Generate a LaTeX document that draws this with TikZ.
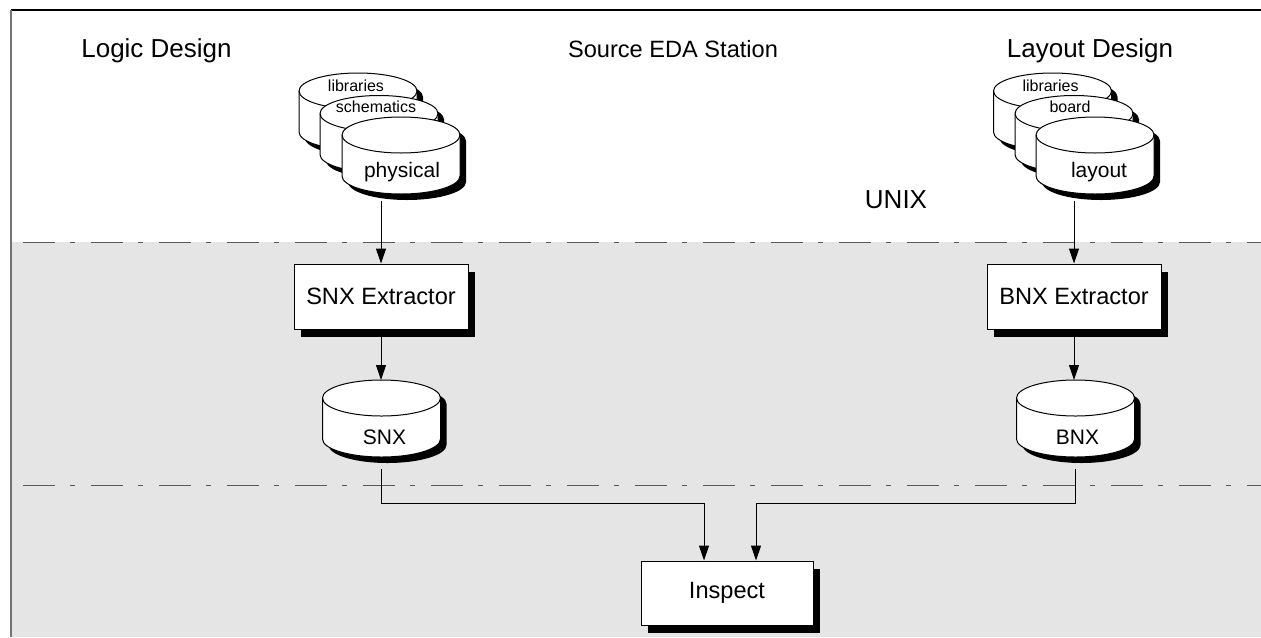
\documentclass[tikz,border=0pt]{standalone}
\usepackage{fontspec}
\setmainfont{Liberation Sans}
\usetikzlibrary{calc,shadows,arrows.meta,positioning}
\tikzset{title/.style={font=\fontsize{13}{15}\selectfont, inner sep=0pt, anchor=base},
  tool/.style={draw, line width=0.5pt, fill=white, minimum width=87pt, minimum height=32.5pt, font=\fontsize{11.8}{14}\selectfont, drop shadow={shadow xshift=3.5pt, shadow yshift=-4pt, fill=black, opacity=1}},
  db/.style={rectangle, minimum width=59pt, minimum height=38.5pt, inner sep=0pt, outer sep=0pt},
  dbname/.style={font=\fontsize{10.5}{12}\selectfont, inner sep=0pt},
  dbsmall/.style={font=\fontsize{8}{9.5}\selectfont, inner sep=0pt},
  flow/.style={-{Triangle[length=7.5pt,width=5pt]}, line width=0.5pt},
  zone/.style={black!65, line width=0.65pt, dash pattern=on 16pt off 7.5pt on 2.5pt off 8pt}}
\newcommand{\drawdb}[1]{%
  \fill[black] ([shift={(3pt,-12pt)}]#1.north west) -- ([shift={(3pt,6pt)}]#1.south west)
    arc[start angle=180, end angle=360, x radius=29.5pt, y radius=9pt]
    -- ([shift={(3pt,-12pt)}]#1.north east)
    arc[start angle=0, end angle=180, x radius=29.5pt, y radius=9pt] -- cycle;
  \filldraw[fill=white, line width=0.5pt] ([yshift=-9pt]#1.north west) -- ([yshift=9pt]#1.south west)
    arc[start angle=180, end angle=360, x radius=29.5pt, y radius=9pt]
    -- ([yshift=-9pt]#1.north east)
    arc[start angle=0, end angle=180, x radius=29.5pt, y radius=9pt] -- cycle;
  \draw[line width=0.5pt] ([yshift=-9pt]#1.north west)
    arc[start angle=180, end angle=360, x radius=29.5pt, y radius=9pt];}

\begin{document}
\begin{tikzpicture}[x=0.5pt,y=-0.5pt]
    \useasboundingbox (0,0) rectangle (1261,637);
    \fill[black!10] (11,242) rectangle (1261,637);
    \draw[line width=0.6pt] (11,10) -- (1261,10);
    \draw[black!55, line width=1pt] (11,10) -- (11,637);
    \draw[zone] (23,242.5) -- (1261,242.5);
    \draw[zone] (23,485.5) -- (1261,485.5);

    \node[title] (logic) at (156.5,57) {Logic Design};
    \node[title, font=\fontsize{11.8}{14}\selectfont] (source) at (673,57) {Source EDA Station};
    \node[title] (layout) at (1090,57) {Layout Design};
    \node[title] (unix) at (896,208) {UNIX};

    \node[db] (libL) at (358,111.5) {};
    \drawdb{libL}
    \node[dbsmall] (libLtxt) at ($(libL.center)+(-2,-25.5)$) {libraries};
    \node[db] (schL) at (379,134) {};
    \drawdb{schL}
    \node[dbsmall] (schLtxt) at ($(schL.center)+(-3,-27)$) {schematics};
    \node[db] (physL) at (401,155.5) {};
    \drawdb{physL}
    \node[dbname] (physLtxt) at ($(physL.center)+(1,17)$) {physical};

    \node[db] (libR) at (1052.5,111.5) {};
    \drawdb{libR}
    \node[dbsmall] (libRtxt) at ($(libR.center)+(-2,-25.5)$) {libraries};
    \node[db] (boardR) at (1074,134) {};
    \drawdb{boardR}
    \node[dbsmall] (boardRtxt) at ($(boardR.center)+(-4,-27)$) {board};
    \node[db] (layR) at (1095,155.5) {};
    \drawdb{layR}
    \node[dbname] (layRtxt) at ($(layR.center)+(4,17)$) {layout};

    \node[tool] (snxex) at (381,296.5) {SNX Extractor};
    \node[tool] (bnxex) at (1074,296.5) {BNX Extractor};

    \node[db] (snx) at (381.5,418.5) {};
    \drawdb{snx}
    \node[dbname] (snxtxt) at ($(snx.center)+(3,18.5)$) {SNX};
    \node[db] (bnx) at (1075.5,418.5) {};
    \drawdb{bnx}
    \node[dbname] (bnxtxt) at ($(bnx.center)+(2,18.5)$) {BNX};

    \node[tool, minimum width=86pt, minimum height=32pt] (insp) at (727,593) {Inspect};

    \coordinate (inL) at ($(insp.north)+(-23,-57)$);
    \coordinate (inR) at ($(insp.north)+(29,-57)$);

    \draw[flow, shorten <=3.5pt] (snxex.north |- physL.south) -- (snxex.north);
    \draw[flow, shorten <=3.5pt] (bnxex.north |- layR.south) -- (bnxex.north);
    \draw[flow] (snxex.south) -- (snxex.south |- snx.north);
    \draw[flow] (bnxex.south) -- (bnxex.south |- bnx.north);
    \draw[flow, shorten <=6pt] (snx.south) |- (inL) -- (inL |- insp.north);
    \draw[flow, shorten <=6pt] (bnx.south) |- (inR) -- (inR |- insp.north);
\end{tikzpicture}
\end{document}
